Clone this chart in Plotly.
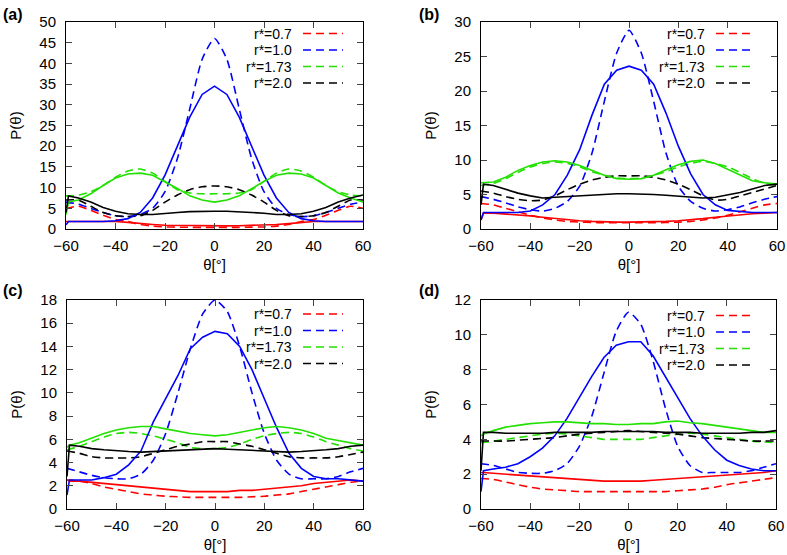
import plotly.graph_objects as go

# ---------------- data ----------------
x_solid = [-60, -59, -55, -50, -45, -40, -35, -30, -25, -20, -15, -10, -5, 0,
           5, 10, 15, 20, 25, 30, 35, 40, 45, 50, 55, 60]
x_dashed = [-60, -55, -50, -45, -40, -35, -30, -25, -20, -15, -10, -5, 0,
            5, 10, 15, 20, 25, 30, 35, 40, 45, 50, 55, 60]

series_labels = ["r*=0.7", "r*=1.0", "r*=1.73", "r*=2.0"]
panel_labels = ["(a)", "(b)", "(c)", "(d)"]
x_ticks = [-60, -40, -20, 0, 20, 40, 60]
y_ticks_a = [0, 5, 10, 15, 20, 25, 30, 35, 40, 45, 50]
y_ticks_b = [0, 5, 10, 15, 20, 25, 30]
y_ticks_c = [0, 2, 4, 6, 8, 10, 12, 14, 16, 18]
y_ticks_d = [0, 2, 4, 6, 8, 10, 12]

# panel (a)
a_red_solid = [1.8, 1.8, 1.8, 1.8, 1.8, 1.8, 1.6, 1.3, 1.1, 0.9, 0.85, 0.8, 0.75, 0.7,
               0.75, 0.8, 0.85, 0.9, 1.1, 1.3, 1.6, 1.8, 1.8, 1.8, 1.8, 1.8]
a_red_dashed = [5.0, 5.5, 4.5, 3.3, 2.3, 1.8, 1.1, 0.7, 0.5, 0.45, 0.4, 0.4, 0.4,
                0.4, 0.4, 0.45, 0.5, 0.7, 1.1, 1.8, 2.3, 3.3, 4.5, 5.5, 5.0]
a_blue_solid = [1.0, 1.8, 1.8, 1.8, 1.8, 2.0, 2.5, 4.0, 7.5, 13.0, 20.0, 27.0, 32.5, 34.5,
                32.5, 27.0, 20.0, 13.0, 7.5, 4.0, 2.5, 2.0, 1.8, 1.8, 1.8, 1.8]
a_blue_dashed = [6.5, 6.0, 5.0, 4.0, 3.2, 3.0, 3.5, 5.0, 9.0, 17.0, 29.0, 41.0, 46.0,
                 41.0, 29.0, 17.0, 9.0, 5.0, 3.5, 3.0, 3.2, 4.0, 5.0, 6.0, 6.5]
a_green_solid = [3.5, 6.5, 7.0, 8.5, 10.5, 12.3, 13.3, 13.5, 13.0, 11.5, 9.8, 8.0, 7.0, 6.5,
                 7.0, 8.0, 9.8, 11.5, 13.0, 13.5, 13.3, 12.3, 10.5, 8.7, 7.5, 6.5]
a_green_dashed = [8.0, 8.2, 9.0, 10.5, 12.5, 14.0, 14.5, 13.5, 11.5, 9.5, 8.7, 8.5, 8.5,
                  8.5, 8.7, 9.5, 11.5, 13.5, 14.5, 14.0, 12.5, 10.5, 9.0, 8.2, 8.0]
a_black_solid = [4.0, 8.0, 7.5, 6.5, 5.2, 4.3, 3.7, 3.5, 3.5, 3.8, 4.0, 4.2, 4.3, 4.3,
                 4.3, 4.2, 4.0, 3.8, 3.5, 3.5, 3.7, 4.3, 5.2, 6.5, 7.5, 8.2]
a_black_dashed = [7.0, 7.0, 5.5, 4.0, 3.2, 3.0, 3.2, 4.5, 6.5, 8.2, 9.5, 10.2, 10.4,
                  10.2, 9.5, 8.2, 6.5, 4.5, 3.2, 3.0, 3.2, 4.0, 5.5, 7.0, 7.0]

# panel (b)
b_red_solid = [1.3, 2.3, 2.3, 2.2, 2.1, 1.9, 1.7, 1.5, 1.3, 1.2, 1.1, 1.0, 1.0, 1.0,
               1.0, 1.0, 1.1, 1.2, 1.3, 1.5, 1.7, 1.9, 2.1, 2.2, 2.3, 2.4]
b_red_dashed = [3.7, 3.5, 3.0, 2.5, 2.0, 1.6, 1.3, 1.1, 1.0, 0.95, 0.9, 0.9, 0.9,
                0.9, 0.9, 0.95, 1.0, 1.1, 1.3, 1.6, 2.0, 2.5, 3.0, 3.5, 3.7]
b_blue_solid = [1.3, 2.4, 2.4, 2.4, 2.4, 2.6, 3.5, 5.0, 7.8, 11.5, 16.5, 21.0, 23.0, 23.6,
                23.0, 21.0, 16.8, 12.0, 8.0, 5.0, 3.5, 2.7, 2.5, 2.4, 2.4, 2.4]
b_blue_dashed = [4.7, 4.3, 3.8, 3.2, 2.8, 2.6, 3.0, 4.0, 6.2, 11.0, 18.5, 25.5, 28.8,
                 25.5, 18.5, 11.0, 6.2, 4.0, 3.0, 2.6, 2.8, 3.2, 3.8, 4.3, 4.7]
b_green_solid = [6.7, 6.7, 6.8, 7.5, 8.5, 9.2, 9.7, 9.9, 9.7, 9.2, 8.5, 7.8, 7.3, 7.2,
                 7.3, 7.8, 8.6, 9.3, 9.8, 10.0, 9.5, 8.7, 7.8, 7.0, 6.7, 6.5]
b_green_dashed = [6.3, 6.6, 7.3, 8.2, 9.0, 9.5, 9.7, 9.5, 9.0, 8.3, 7.8, 7.4, 7.3,
                  7.4, 7.8, 8.3, 9.0, 9.5, 9.8, 9.5, 9.0, 8.2, 7.3, 6.6, 6.3]
b_black_solid = [3.5, 6.5, 6.3, 5.7, 5.2, 4.8, 4.5, 4.6, 4.7, 4.9, 5.0, 5.1, 5.1, 5.1,
                 5.1, 5.0, 4.9, 4.8, 4.6, 4.5, 4.6, 4.9, 5.3, 5.8, 6.3, 6.5]
b_black_dashed = [5.5, 5.2, 4.7, 4.3, 4.1, 4.2, 4.8, 5.7, 6.5, 7.1, 7.5, 7.7, 7.7,
                  7.7, 7.5, 7.1, 6.5, 5.7, 4.8, 4.2, 4.3, 4.8, 5.3, 5.8, 6.3]

# panel (c)
c_red_solid = [2.5, 2.4, 2.4, 2.3, 2.2, 2.1, 2.0, 1.9, 1.8, 1.7, 1.6, 1.5, 1.5, 1.5,
               1.5, 1.6, 1.6, 1.7, 1.8, 1.9, 2.0, 2.2, 2.3, 2.4, 2.5, 2.4]
c_red_dashed = [2.5, 2.4, 2.2, 1.9, 1.7, 1.5, 1.3, 1.2, 1.1, 1.05, 1.0, 1.0, 1.0,
                1.0, 1.0, 1.05, 1.1, 1.2, 1.3, 1.5, 1.7, 1.9, 2.1, 2.3, 2.4]
c_blue_solid = [1.2, 2.5, 2.5, 2.5, 2.7, 3.0, 3.8, 5.0, 7.5, 9.5, 11.5, 13.8, 14.8, 15.3,
                15.1, 14.0, 12.0, 9.5, 7.0, 4.8, 3.5, 2.8, 2.6, 2.6, 2.5, 2.4]
c_blue_dashed = [3.5, 3.2, 2.9, 2.7, 2.6, 2.6, 3.0, 4.2, 6.5, 10.0, 13.8, 16.8, 18.0,
                 17.0, 14.0, 10.0, 6.5, 4.2, 3.0, 2.6, 2.6, 2.6, 2.8, 3.2, 3.5]
c_green_solid = [5.3, 5.5, 5.7, 6.1, 6.5, 6.8, 7.0, 7.1, 7.1, 6.9, 6.7, 6.5, 6.4, 6.3,
                 6.4, 6.6, 6.8, 7.0, 7.1, 7.0, 6.8, 6.5, 6.1, 5.9, 5.7, 5.5]
c_green_dashed = [5.1, 5.4, 5.8, 6.2, 6.5, 6.6, 6.5, 6.3, 6.0, 5.7, 5.3, 5.2, 5.2,
                  5.3, 5.6, 6.0, 6.3, 6.5, 6.6, 6.5, 6.2, 5.8, 5.5, 5.2, 5.0]
c_black_solid = [2.8, 5.5, 5.4, 5.2, 5.1, 5.0, 4.95, 4.9, 4.95, 5.0, 5.05, 5.1, 5.15, 5.2,
                 5.15, 5.1, 5.05, 5.0, 4.95, 4.9, 4.95, 5.0, 5.1, 5.2, 5.4, 5.5]
c_black_dashed = [5.0, 4.8, 4.5, 4.4, 4.4, 4.4, 4.5, 4.8, 5.1, 5.4, 5.6, 5.8, 5.8,
                  5.8, 5.6, 5.4, 5.1, 4.8, 4.5, 4.4, 4.4, 4.4, 4.5, 4.7, 4.9]

# panel (d)
d_red_solid = [2.1, 2.1, 2.05, 2.0, 1.95, 1.9, 1.85, 1.8, 1.75, 1.7, 1.65, 1.6, 1.6, 1.6,
               1.6, 1.65, 1.7, 1.75, 1.8, 1.85, 1.9, 1.95, 2.0, 2.05, 2.1, 2.2]
d_red_dashed = [1.75, 1.7, 1.55, 1.4, 1.25, 1.15, 1.1, 1.05, 1.0, 1.0, 1.0, 1.0, 1.0,
                1.0, 1.0, 1.0, 1.05, 1.1, 1.15, 1.25, 1.4, 1.5, 1.6, 1.7, 1.8]
d_blue_solid = [1.0, 2.2, 2.3, 2.4, 2.6, 3.0, 3.5, 4.2, 5.2, 6.4, 7.6, 8.7, 9.4, 9.6,
                9.6, 8.8, 7.6, 6.4, 5.2, 4.2, 3.4, 2.8, 2.5, 2.3, 2.2, 2.2]
d_blue_dashed = [2.6, 2.5, 2.3, 2.1, 2.05, 2.05, 2.2, 2.6, 3.6, 5.3, 7.8, 10.2, 11.3,
                 10.6, 8.5, 5.8, 3.6, 2.5, 2.1, 2.1, 2.1, 2.1, 2.2, 2.4, 2.6]
d_green_solid = [4.2, 4.3, 4.5, 4.7, 4.8, 4.9, 4.95, 5.0, 5.0, 4.95, 4.9, 4.9, 4.85, 4.85,
                 4.9, 4.9, 5.0, 5.05, 4.95, 4.9, 4.8, 4.7, 4.6, 4.5, 4.4, 4.4]
d_green_dashed = [3.8, 3.9, 4.0, 4.1, 4.2, 4.3, 4.35, 4.3, 4.2, 4.1, 4.0, 4.0, 4.0,
                  4.0, 4.1, 4.2, 4.3, 4.35, 4.3, 4.2, 4.1, 4.0, 3.9, 3.85, 3.8]
d_black_solid = [2.2, 4.4, 4.4, 4.35, 4.35, 4.35, 4.35, 4.4, 4.4, 4.4, 4.4, 4.45, 4.45, 4.45,
                 4.45, 4.45, 4.4, 4.4, 4.4, 4.35, 4.35, 4.35, 4.35, 4.4, 4.4, 4.5]
d_black_dashed = [3.9, 3.9, 3.9, 3.95, 4.0, 4.05, 4.1, 4.2, 4.3, 4.35, 4.4, 4.45, 4.5,
                  4.45, 4.4, 4.35, 4.3, 4.2, 4.1, 4.05, 4.0, 3.95, 3.9, 3.9, 3.9]

# ---------------- figure ----------------
W, H = 787, 555
colors = ["#ff0000", "#0000ff", "#22e000", "#000000"]
FONT = "Liberation Sans, Arial, Helvetica, sans-serif"
FS = 15
LFS = 14

panels = [
    dict(solid=[a_red_solid, a_blue_solid, a_green_solid, a_black_solid],
         dashed=[a_red_dashed, a_blue_dashed, a_green_dashed, a_black_dashed],
         yt=y_ticks_a, box=(66, 363, 22, 229), leg_x=(293, 303, 343), leg_y=(33.5, 50, 66.5, 83),
         lab=(1, 15)),
    dict(solid=[b_red_solid, b_blue_solid, b_green_solid, b_black_solid],
         dashed=[b_red_dashed, b_blue_dashed, b_green_dashed, b_black_dashed],
         yt=y_ticks_b, box=(481, 777, 22, 229), leg_x=(706, 716, 755), leg_y=(33.5, 50, 66.5, 83),
         lab=(417, 15)),
    dict(solid=[c_red_solid, c_blue_solid, c_green_solid, c_black_solid],
         dashed=[c_red_dashed, c_blue_dashed, c_green_dashed, c_black_dashed],
         yt=y_ticks_c, box=(67, 363, 300, 509), leg_x=(293, 303, 343), leg_y=(314, 330.5, 347, 363.5),
         lab=(1, 290)),
    dict(solid=[d_red_solid, d_blue_solid, d_green_solid, d_black_solid],
         dashed=[d_red_dashed, d_blue_dashed, d_green_dashed, d_black_dashed],
         yt=y_ticks_d, box=(481, 776, 300, 509), leg_x=(706, 716, 755), leg_y=(315.5, 332, 348.5, 365),
         lab=(417, 290)),
]

fig = go.Figure()
shapes = []
annotations = []

def px(x):
    return x / W

def py(y):
    return 1 - y / H

for i, p in enumerate(panels):
    n = "" if i == 0 else str(i + 1)
    xa, ya = "x" + n, "y" + n
    for k in range(4):
        fig.add_trace(go.Scatter(x=x_dashed, y=p["dashed"][k], xaxis=xa, yaxis=ya, mode="lines",
                                 line=dict(color=colors[k], width=1.6, dash="8px,5px", shape="spline", smoothing=0.6),
                                 showlegend=False, hoverinfo="skip"))
    for k in range(4):
        fig.add_trace(go.Scatter(x=x_solid, y=p["solid"][k], xaxis=xa, yaxis=ya, mode="lines",
                                 line=dict(color=colors[k], width=1.6),
                                 showlegend=False, hoverinfo="skip"))
    l, r, t, b = p["box"]
    ax = dict(domain=[px(l), px(r)], range=[-60, 60], tickvals=x_ticks, ticks="inside", ticklen=6,
              showline=True, linecolor="black", linewidth=1, mirror="ticks", showgrid=False,
              zeroline=False, anchor=ya, automargin=False, ticklabelstandoff=3,
              tickfont=dict(size=FS, family=FONT, color="black"),
              title=dict(text="θ[°]", font=dict(size=FS, family=FONT, color="black"), standoff=6))
    ay = dict(domain=[py(b), py(t)], range=[0, p["yt"][-1]], tickvals=p["yt"], ticks="inside", ticklen=6,
              showline=True, linecolor="black", linewidth=1, mirror="ticks", showgrid=False,
              zeroline=False, anchor=xa, automargin=False, ticklabelstandoff=6,
              tickfont=dict(size=FS, family=FONT, color="black"),
              title=dict(text="P(θ)", font=dict(size=FS, family=FONT, color="black"), standoff=14))
    fig.layout["xaxis" + n] = ax
    fig.layout["yaxis" + n] = ay
    # legend (text right-aligned, dashed sample to the right)
    tx, s0, s1 = p["leg_x"]
    for k in range(4):
        yy = p["leg_y"][k]
        annotations.append(dict(x=px(tx), y=py(yy), xref="paper", yref="paper", text=series_labels[k],
                                showarrow=False, xanchor="right", yanchor="middle", borderpad=0,
                                font=dict(size=LFS, family=FONT, color="black")))
        shapes.append(dict(type="line", xref="paper", yref="paper", x0=px(s0), x1=px(s1),
                           y0=py(yy), y1=py(yy), line=dict(color=colors[k], width=1.6, dash="8px,5px")))
    lx, ly = p["lab"]
    annotations.append(dict(x=px(lx), y=py(ly), xref="paper", yref="paper", text="<b>" + panel_labels[i] + "</b>",
                            showarrow=False, xanchor="left", yanchor="middle",
                            font=dict(size=16, family=FONT, color="black")))

fig.update_layout(width=W, height=H, margin=dict(l=0, r=0, t=0, b=0),
                  paper_bgcolor="white", plot_bgcolor="white",
                  shapes=shapes, annotations=annotations, showlegend=False)

fig.write_html("out.html")
